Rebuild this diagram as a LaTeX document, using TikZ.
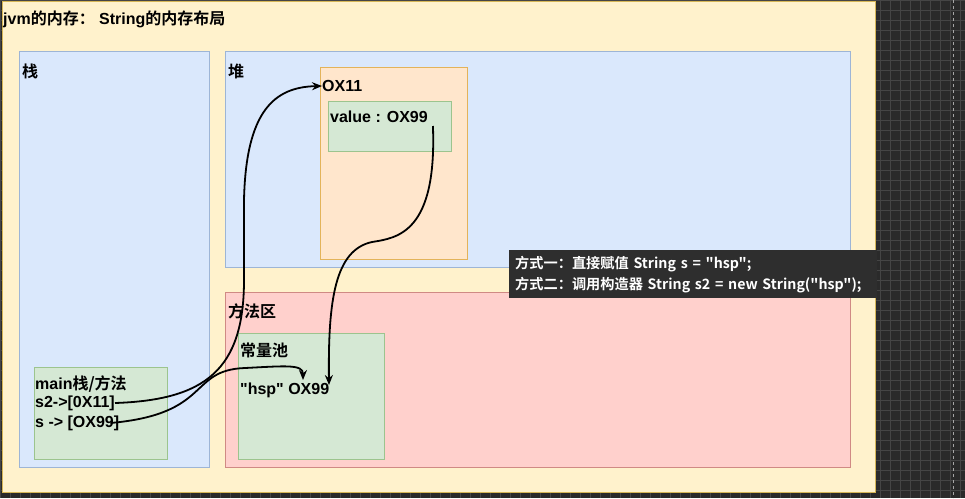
\documentclass[tikz,border=0pt]{standalone}
\usepackage{fontspec}
\setmainfont{Liberation Sans}
\newfontfamily\cjk{Noto Sans CJK SC}[BoldFont={Noto Sans CJK SC Bold}]
\usetikzlibrary{arrows.meta,positioning}

\definecolor{canvasbg}{HTML}{2A2A2A}
\definecolor{canvasgrid}{HTML}{454545}
\definecolor{jvmfill}{HTML}{FFF2CC}
\definecolor{jvmline}{HTML}{D6B656}
\definecolor{bluefill}{HTML}{DAE8FC}
\definecolor{blueline}{HTML}{9DB5D6}
\definecolor{orangefill}{HTML}{FFE6CC}
\definecolor{orangeline}{HTML}{E3B35A}
\definecolor{greenfill}{HTML}{D5E8D4}
\definecolor{greenline}{HTML}{9CC48E}
\definecolor{redfill}{HTML}{FFD0CC}
\definecolor{redline}{HTML}{D08A84}
\definecolor{notefill}{HTML}{2E2E2E}

\newcommand{\zh}[1]{{\cjk\bfseries #1}}
\newcommand{\dq}{\textquotedbl}

\tikzset{
  every node/.style={font=\fontsize{16}{19}\selectfont\bfseries},
  area/.style={anchor=north west, inner sep=0pt, line width=0.8pt},
  jvmarea/.style={area, fill=jvmfill, draw=jvmline},
  bluearea/.style={area, fill=bluefill, draw=blueline},
  orangearea/.style={area, fill=orangefill, draw=orangeline},
  greenarea/.style={area, fill=greenfill, draw=greenline},
  redarea/.style={area, fill=redfill, draw=redline},
  lbl/.style={anchor=west, inner sep=0pt, text=black},
  ref/.style={-{Stealth[length=10pt,width=8pt]}, line width=1.8pt, black},
  gridline/.style={canvasgrid, line width=0.6pt}
}

\begin{document}
\begin{tikzpicture}[x=1pt, y=-1pt]
\useasboundingbox (0,0) rectangle (965,498);
% dark canvas with grid
\fill[canvasbg] (0,0) rectangle (965,498);
\foreach \gx in {0,10,...,960}
  \draw[gridline] (\gx,0) -- (\gx,498);
\foreach \gy in {0,10,...,490}
  \draw[gridline] (0,\gy) -- (965,\gy);
\draw[white!65!black, dashed, line width=0.6pt] (953,0) -- (953,498);

% memory areas
\node[jvmarea, minimum width=873, minimum height=491] (jvm) at (2,1) {};
\node[lbl] (title) at (3,19) {jvm\zh{的内存：} String\zh{的内存布局}};

\node[bluearea, minimum width=190, minimum height=416] (stack) at (19,51) {};
\node[lbl] (stacklbl) at (22,71) {\zh{栈}};
\node[bluearea, minimum width=625, minimum height=216] (heap) at (225,51) {};
\node[lbl] (heaplbl) at (228,71) {\zh{堆}};
\node[redarea, minimum width=625, minimum height=175] (method) at (225,292) {};
\node[lbl] (methodlbl) at (228,311) {\zh{方法区}};

% heap object
\node[orangearea, minimum width=147, minimum height=192] (obj) at (320,67) {};
\node[lbl] (objhead) at (322,86) {OX11};
\node[greenarea, minimum width=123, minimum height=50] (valbox) at (328,101) {};
\node[lbl] (valtxt) at (330,117) {value : OX99};

% constant pool
\node[greenarea, minimum width=146, minimum height=126] (pool) at (238,333) {};
\node[lbl] (poollbl) at (240,350) {\zh{常量池}};
\node[lbl] (hsp) at (240,390) {\dq hsp\dq{} OX99};

% main frame
\node[greenarea, minimum width=133, minimum height=92] (frame) at (34,367) {};
\node[lbl] (framelbl) at (35,384) {main\zh{栈/方法}};
\node[lbl] (s2ref) at (35,403) {s2->[0X11]};
\node[lbl] (sref) at (35,423) {s -> [OX99]};

% note
\node[anchor=north west, fill=notefill, text=white, inner xsep=6pt, inner ysep=4pt,
  text width=356pt, minimum height=48pt, align=left,
  font=\cjk\bfseries\fontsize{14.2}{21}\selectfont] (note) at (509,250)
  {方式一：直接赋值 String s = "hsp";\\方式二：调用构造器 String s2 = new String("hsp");};

% references
\coordinate (hspin) at (303,380);
\coordinate (hspval) at (329,385);
\draw[ref] (s2ref.east) .. controls (205,400) and (244,370) .. (244,280) -- (244,200)
  .. controls (246,110) and (275,87) .. (objhead.west);
\draw[ref] ([xshift=-9pt]sref.east) .. controls (212,414) and (188,370) .. (245,368)
  .. controls (285,366) and (303,364) .. (hspin);
\draw[ref] ([xshift=5pt,yshift=-9pt]valtxt.east) .. controls (437,232) and (398,238) .. (372,242)
  .. controls (335,250) and (328,300) .. (hspval);
\end{tikzpicture}
\end{document}
